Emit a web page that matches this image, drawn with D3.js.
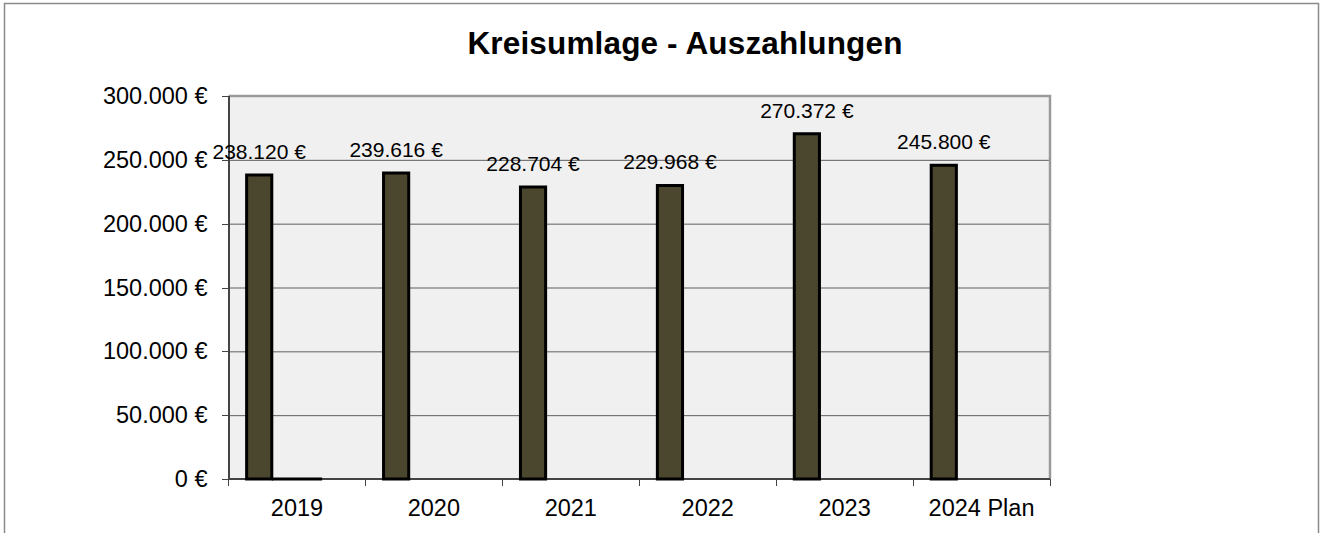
<!DOCTYPE html>
<html>
<head>
<meta charset="utf-8">
<script src="https://cdn.jsdelivr.net/npm/d3@7"></script>
<style>
    body { margin: 0; background: #fff; }
    text { font-family: "Liberation Sans", Arial, sans-serif; fill: #000; }
    .axis path, .axis line { shape-rendering: crispEdges; }
</style>
</head>
<body>
<svg id="chart" width="1322" height="533"></svg>
<script>
// chart data
var title = "Kreisumlage - Auszahlungen";
var categories = ["2019", "2020", "2021", "2022", "2023", "2024 Plan"];
var auszahlungen = [238120, 239616, 228704, 229968, 270372, 245800];
// empty series in the source sheet (only 2019 has a 0 entry)
var leer1 = [0, null, null, null, null, null];
var leer2 = [0, null, null, null, null, null];
var leer3 = [null, null, null, null, null, null];
var yTicks = [0, 50000, 100000, 150000, 200000, 250000, 300000];

var series = [auszahlungen, leer1, leer2, leer3];

var width = 1322, height = 533;
var margin = { "left": 228.5, "right": 272, "top": 96, "bottom": 54 };
var plotW = width - margin.left - margin.right;
var plotH = height - margin.top - margin.bottom;

var de = d3.formatLocale({ decimal: ",", thousands: ".", grouping: [3], currency: ["", " €"] });
var fmt = function(v) { return de.format(",.0f")(v) + " €"; };

var svg = d3.select("#chart");

// outer frame
svg.append("rect")
    .attr("x", 4.5).attr("y", 3.5)
    .attr("width", 1314).attr("height", 560)
    .attr("fill", "none")
    .attr("stroke", "#8a8a8a")
    .attr("stroke-width", 1.5);

svg.append("text")
    .attr("x", 685)
    .attr("y", 54)
    .attr("text-anchor", "middle")
    .style("font-size", "31.5px")
    .style("font-weight", "bold")
    .style("letter-spacing", "0.15px")
    .text(title);

var g = svg.append("g")
    .attr("transform", "translate(" + margin.left + "," + margin.top + ")");

var x = d3.scaleBand()
    .domain(categories)
    .range([0, plotW])
    .padding(0);

var xs = d3.scaleBand()
    .domain(d3.range(series.length))
    .range([0, x.bandwidth()])
    .paddingInner(0)
    .paddingOuter(0.72);

var y = d3.scaleLinear()
    .domain([0, 300000])
    .range([plotH, 0]);

// plot background
g.append("rect")
    .attr("width", plotW)
    .attr("height", plotH)
    .attr("fill", "#f0f0f0");

// y gridlines
g.append("g")
    .attr("class", "grid")
    .call(d3.axisLeft(y).tickValues(yTicks).tickSize(-plotW).tickFormat(""))
    .call(s => s.select(".domain").remove())
    .selectAll("line")
    .attr("stroke", "#5e5e5e")
    .attr("stroke-width", 1);

// top + right border of plot area
g.append("path")
    .attr("d", "M0,0H" + plotW + "V" + plotH)
    .attr("fill", "none")
    .attr("stroke", "#9a9a9a")
    .attr("stroke-width", 2.5);

// y axis
var gy = g.append("g")
    .attr("class", "axis axis--y")
    .call(d3.axisLeft(y).tickValues(yTicks).tickSize(7).tickPadding(14).tickFormat(fmt));
gy.select(".domain").attr("stroke", "#444").attr("stroke-width", 1.5);
gy.selectAll("line").attr("stroke", "#444");
gy.selectAll("text").style("font-size", "23.5px");

// x axis (drawn before the bars so the bar outlines sit on top)
var gx = g.append("g")
    .attr("class", "axis axis--x")
    .attr("transform", "translate(0," + plotH + ")");
gx.append("line")
    .attr("x1", 0).attr("x2", plotW)
    .attr("stroke", "#444")
    .attr("stroke-width", 1.5);
gx.selectAll(".tick-b")
    .data(categories.map(c => x(c)).concat([plotW]))
    .enter()
    .append("line")
    .attr("class", "tick-b")
    .attr("x1", d => d).attr("x2", d => d)
    .attr("y1", 0).attr("y2", 7)
    .attr("stroke", "#444");
gx.call(d3.axisBottom(x).tickSize(0).tickPadding(20))
    .call(s => s.select(".domain").remove())
    .selectAll("text")
    .style("font-size", "23.5px");

// bars (drawn as paths so a 0 value still shows its outline)
series.forEach(function(vals, si) {
    g.append("g")
        .attr("class", "bars-" + si)
        .selectAll("path")
        .data(vals.map((v, i) => ({ cat: categories[i], v: v })).filter(d => d.v !== null))
        .enter()
        .append("path")
        .attr("d", function(d) {
            var x0 = x(d.cat) + xs(si), w = xs.bandwidth();
            return "M" + x0 + "," + plotH + "V" + y(d.v) + "H" + (x0 + w) + "V" + plotH + "Z";
        })
        .attr("fill", "#4b462e")
        .attr("stroke", "#000")
        .attr("stroke-width", 3);
});

// data labels
g.append("g")
    .attr("class", "labels")
    .selectAll("text")
    .data(auszahlungen)
    .enter()
    .append("text")
    .attr("x", (d, i) => x(categories[i]) + xs(0) + xs.bandwidth() / 2)
    .attr("y", d => y(d) - 16)
    .attr("text-anchor", "middle")
    .style("font-size", "21px")
    .text(d => fmt(d));
</script>
</body>
</html>
